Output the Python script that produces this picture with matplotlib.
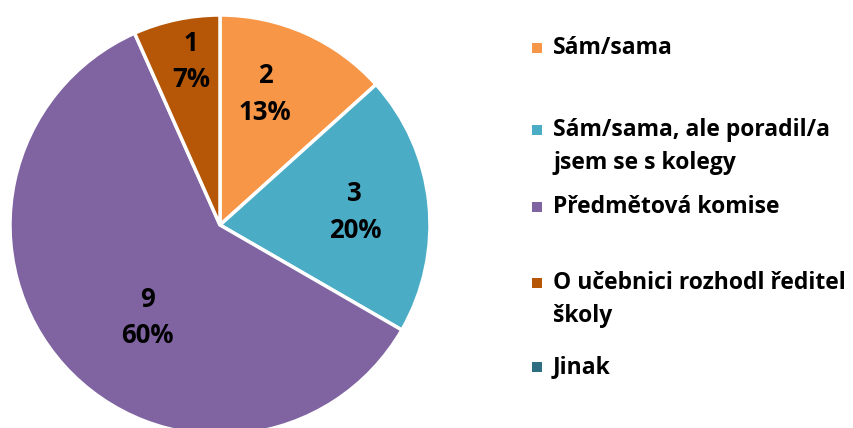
import matplotlib
matplotlib.use("Agg")
import matplotlib.pyplot as plt
import numpy as np
from matplotlib.patches import Rectangle

plt.rcParams["font.family"] = ["Open Sans", "DejaVu Sans"]

categories = ["Sám/sama", "Sám/sama, ale poradil/a\njsem se s kolegy", "Předmětová komise",
              "O učebnici rozhodl ředitel\nškoly", "Jinak"]
counts = [2, 3, 9, 1, 0]
colors = ["#F79646", "#4BACC6", "#8064A2", "#B65708", "#2F6E80"]

W, H = 854, 428
fig = plt.figure(figsize=(W / 100, H / 100), dpi=100)

# pie axes: centre (220, 225) px, radius 210 px
cx, cy, r = 220, 225, 210
ax = fig.add_axes([(cx - r) / W, (H - cy - r) / H, 2 * r / W, 2 * r / H])
ax.axis("off")

vals = np.array(counts, dtype=float)
nz = vals > 0
wedges, _ = ax.pie(vals[nz], colors=[c for c, k in zip(colors, nz) if k], startangle=90,
                   counterclock=False, radius=1,
                   wedgeprops={"edgecolor": "white", "linewidth": 2.5})
ax.set_xlim(-1, 1)
ax.set_ylim(-1, 1)

# label placement (excel "best fit"): radius fraction and angle nudge per slice
total = vals.sum()
label_r = [0.66, 0.645, 0.56, 0.79]
label_da = [5, -0.5, 10, -2]
for w, v, lr, da in zip(wedges, vals[nz], label_r, label_da):
    mid = np.deg2rad((w.theta1 + w.theta2) / 2 + da)
    ax.text(lr * np.cos(mid), lr * np.sin(mid), f"{int(v)}\n{v / total * 100:.0f}%",
            ha="center", va="center", fontsize=18.5, fontweight="bold", color="black",
            linespacing=1.45)

# legend
leg_y = [48, 130, 207, 283, 367]
step = 33
for lab, col, y in zip(categories, colors, leg_y):
    fig.patches.append(Rectangle((532 / W, (H - y - 5) / H), 10 / W, 10 / H,
                                 transform=fig.transFigure, facecolor=col, edgecolor="none"))
    for i, line in enumerate(lab.split("\n")):
        fig.text(553 / W, (H - y - i * step) / H, line, ha="left", va="center", fontsize=16.5,
                 fontweight="bold", color="black")

fig.savefig("out.png", dpi=100)
